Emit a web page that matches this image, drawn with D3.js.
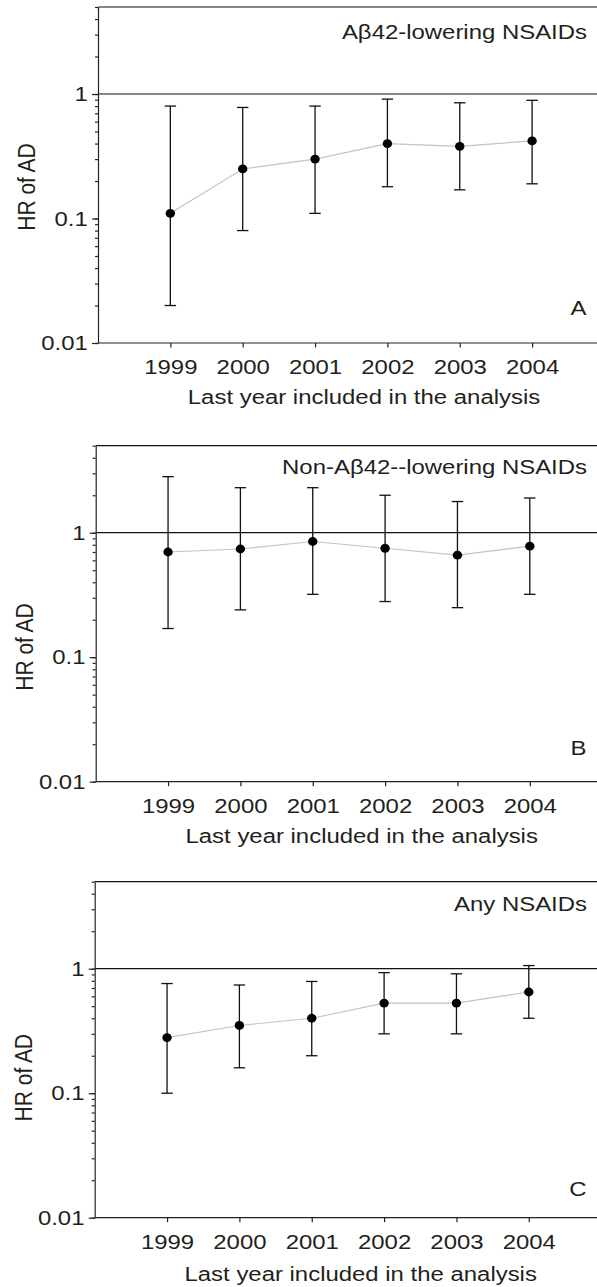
<!DOCTYPE html>
<html>
<head>
<meta charset="utf-8">
<script src="https://cdn.jsdelivr.net/npm/d3@7"></script>
<style>
  body { margin: 0; background: #fff; }
  text { font-family: "Liberation Sans", Arial, sans-serif; fill: #231f20; }
</style>
</head>
<body>
<div id="vis"></div>
<script>
// values
var years = [1999, 2000, 2001, 2002, 2003, 2004];

var hrA = [0.11, 0.25, 0.30, 0.40, 0.38, 0.42];
var loA = [0.02, 0.08, 0.11, 0.18, 0.17, 0.19];
var hiA = [0.80, 0.78, 0.80, 0.91, 0.85, 0.89];

var hrB = [0.70, 0.74, 0.85, 0.75, 0.66, 0.78];
var loB = [0.17, 0.24, 0.32, 0.28, 0.25, 0.32];
var hiB = [2.82, 2.30, 2.30, 2.00, 1.78, 1.90];

var hrC = [0.28, 0.35, 0.40, 0.53, 0.53, 0.65];
var loC = [0.10, 0.16, 0.20, 0.30, 0.30, 0.40];
var hiC = [0.76, 0.74, 0.79, 0.93, 0.91, 1.06];

var titles = ['A\u03b242-lowering NSAIDs', 'Non-A\u03b242--lowering NSAIDs', 'Any NSAIDs'];
var letters = ['A', 'B', 'C'];
var majorTicks = [0.01, 0.1, 1];
var yLabel = 'HR of AD';
var xLabel = 'Last year included in the analysis';

var width = 597, height = 1287;
var sx = 1.14;   // the figure's text is a bit wide
var fontSize = 21;

var svg = d3.select('#vis')
            .append('svg')
            .attr('width', width)
            .attr('height', height);

// layout of each panel
var panels = [
    {hr: hrA, lo: loA, hi: hiA, left: 98,   top: 7,     titleY: 32,   letterY: 28.4, ylabY: 180,   xtitleY: 61.3},
    {hr: hrB, lo: loB, hi: hiB, left: 95.7, top: 445.7, titleY: 28.3, letterY: 26.3, ylabY: 201.3, xtitleY: 61.4},
    {hr: hrC, lo: loC, hi: hiC, left: 94.7, top: 881.7, titleY: 29.3, letterY: 22,   ylabY: 196,   xtitleY: 63.5}
];

var plotH = 336,
    step = 72.35;

panels.forEach(function(p, i) {
    var g = svg.append('g').attr('transform', `translate(${p.left}, ${p.top})`);

    var xScale = d3.scaleLinear().domain([1998, 2005]).range([0, step * 7]);
    var yScale = d3.scaleLog().domain([0.01, 5]).range([plotH, 0]);

    var data = years.map(function(y, j) {
        return {year: y, hr: p.hr[j], lo: p.lo[j], hi: p.hi[j]};
    });

    // top border and reference line at HR = 1
    g.append('line')
     .attr('x1', 0).attr('x2', width)
     .attr('y1', 0).attr('y2', 0)
     .attr('stroke', '#111').attr('stroke-width', 1.2);
    g.append('line')
     .attr('x1', 0).attr('x2', width)
     .attr('y1', yScale(1)).attr('y2', yScale(1))
     .attr('stroke', '#111').attr('stroke-width', 1.2);

    // y axis: minor then major ticks
    var yMinor = d3.axisLeft(yScale)
                   .tickValues(yScale.ticks())
                   .tickSize(3)
                   .tickSizeOuter(0)
                   .tickFormat('');
    var yMajor = d3.axisLeft(yScale)
                   .tickValues(majorTicks)
                   .tickSize(6)
                   .tickSizeOuter(0)
                   .tickPadding(3)
                   .tickFormat(d3.format('~g'));
    var yg1 = g.append('g').call(yMinor);
    var yg2 = g.append('g').call(yMajor);
    yg2.select('.domain').remove();

    // x axis
    var xAxis = d3.axisBottom(xScale)
                  .tickValues(years)
                  .tickSize(4.5)
                  .tickSizeOuter(0)
                  .tickFormat(d3.format('d'));
    var xg = g.append('g')
              .attr('transform', `translate(0, ${plotH})`)
              .call(xAxis);
    xg.select('.domain').attr('d', `M0,0H${width}`);

    [yg1, yg2, xg].forEach(function(a) {
        a.selectAll('path, line').attr('stroke', '#222').attr('stroke-width', 1.2);
        a.selectAll('text')
         .attr('font-size', fontSize)
         .attr('font-family', '"Liberation Sans", Arial, sans-serif')
         .attr('fill', '#231f20')
         .attr('transform', `scale(${sx},1)`);
    });
    xg.selectAll('text').attr('y', 31.5).attr('dy', 0);

    // connecting line
    var line = d3.line()
                 .x(function(d) { return xScale(d.year); })
                 .y(function(d) { return yScale(d.hr); });
    g.append('path')
     .datum(data)
     .attr('d', line)
     .attr('fill', 'none')
     .attr('stroke', '#c4c4c4')
     .attr('stroke-width', 1.2);

    // error bars
    var bars = g.selectAll('.err').data(data).enter().append('g').attr('class', 'err');
    bars.append('line')
        .attr('x1', function(d) { return xScale(d.year); })
        .attr('x2', function(d) { return xScale(d.year); })
        .attr('y1', function(d) { return yScale(d.lo); })
        .attr('y2', function(d) { return yScale(d.hi); })
        .attr('stroke', '#111').attr('stroke-width', 1.3);
    ['lo', 'hi'].forEach(function(k) {
        bars.append('line')
            .attr('x1', function(d) { return xScale(d.year) - 5.7; })
            .attr('x2', function(d) { return xScale(d.year) + 5.7; })
            .attr('y1', function(d) { return yScale(d[k]); })
            .attr('y2', function(d) { return yScale(d[k]); })
            .attr('stroke', '#111').attr('stroke-width', 1.3);
    });
    bars.append('ellipse')
        .attr('cx', function(d) { return xScale(d.year); })
        .attr('cy', function(d) { return yScale(d.hr); })
        .attr('rx', 4.7).attr('ry', 4.4)
        .attr('fill', '#000');

    // texts
    g.append('text')
     .attr('transform', `translate(${587 - p.left}, ${p.titleY}) scale(${sx},1)`)
     .attr('text-anchor', 'end')
     .attr('font-size', fontSize)
     .text(titles[i]);

    g.append('text')
     .attr('transform', `translate(${586.5 - p.left}, ${plotH - p.letterY}) scale(${sx},1)`)
     .attr('text-anchor', 'end')
     .attr('font-size', fontSize)
     .text(letters[i]);

    g.append('text')
     .attr('transform', `translate(-63, ${p.ylabY}) scale(${sx},1) rotate(-90)`)
     .attr('text-anchor', 'middle')
     .attr('font-size', fontSize)
     .text(yLabel);

    g.append('text')
     .attr('transform', `translate(266, ${plotH + p.xtitleY}) scale(${sx},1)`)
     .attr('text-anchor', 'middle')
     .attr('font-size', fontSize)
     .text(xLabel);
});
</script>
</body>
</html>
